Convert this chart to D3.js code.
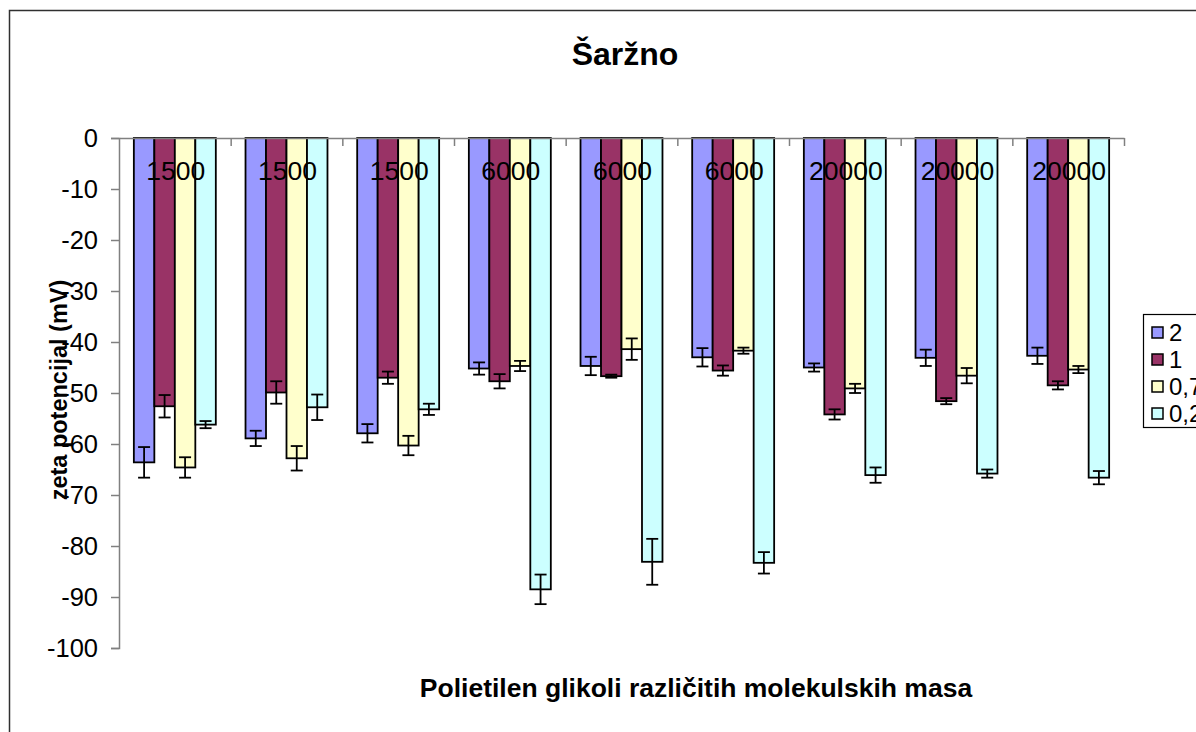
<!DOCTYPE html>
<html>
<head>
<meta charset="utf-8">
<script src="https://cdn.jsdelivr.net/npm/d3@7"></script>
<style>
  body { margin: 0; background: #fff; overflow: hidden; }
  text { font-family: "Liberation Sans", Arial, sans-serif; fill: #000; }
</style>
</head>
<body>
<div id="chart"></div>
<script>
// Chart data
var categories = ["1500", "1500", "1500", "6000", "6000", "6000", "20000", "20000", "20000"];
var seriesNames = ["2", "1", "0,75", "0,25"];
var seriesColors = ["#9999FF", "#993366", "#FFFFCC", "#CCFFFF"];

var values2 = [-63.6, -58.9, -57.9, -45.2, -44.7, -43.0, -45.0, -43.1, -42.7];
var values1 = [-52.6, -49.9, -47.0, -47.7, -46.7, -45.6, -54.2, -51.6, -48.5];
var values075 = [-64.6, -62.8, -60.3, -44.7, -41.4, -41.7, -49.1, -46.6, -45.4];
var values025 = [-56.2, -52.8, -53.2, -88.5, -83.1, -83.3, -66.1, -65.8, -66.6];

var errors2 = [3.0, 1.5, 1.8, 1.2, 1.8, 1.8, 0.8, 1.6, 1.6];
var errors1 = [2.2, 2.2, 1.2, 1.4, 0.3, 1.0, 1.0, 0.6, 0.8];
var errors075 = [2.0, 2.4, 1.9, 1.0, 2.1, 0.6, 0.9, 1.5, 0.7];
var errors025 = [0.7, 2.5, 1.1, 2.9, 4.5, 2.1, 1.5, 0.8, 1.3];

var yTicks = [0, -10, -20, -30, -40, -50, -60, -70, -80, -90, -100];

var allValues = [values2, values1, values075, values025];
var allErrors = [errors2, errors1, errors075, errors025];

// Define SVG area dimensions
var svgWidth = 1196;
var svgHeight = 732;

var plot = { left: 119, right: 1124, top: 138, bottom: 648 };

var svg = d3.select("#chart")
  .append("svg")
  .attr("width", svgWidth)
  .attr("height", svgHeight);

// Outer chart frame (runs off the right and bottom edges like the original)
svg.append("rect")
  .attr("x", 9.5)
  .attr("y", 10.5)
  .attr("width", 1300)
  .attr("height", 900)
  .attr("fill", "none")
  .attr("stroke", "#303030")
  .attr("stroke-width", 1.5);

// Build flat table of bars
var rows = [];
categories.forEach(function(c, i) {
  seriesNames.forEach(function(s, j) {
    rows.push({ cat: i, series: j, value: allValues[j][i], err: allErrors[j][i] });
  });
});

// Scales
var x0 = d3.scaleBand()
  .domain(d3.range(categories.length))
  .range([plot.left, plot.right]);

var gap = x0.bandwidth() * 0.133;
var x1 = d3.scaleBand()
  .domain(d3.range(seriesNames.length))
  .range([gap, x0.bandwidth() - gap]);

var y = d3.scaleLinear()
  .domain([-100, 0])
  .range([plot.bottom, plot.top]);

// Bars
svg.append("g").selectAll("rect")
  .data(rows)
  .enter()
  .append("rect")
  .attr("x", d => x0(d.cat) + x1(d.series))
  .attr("y", y(0))
  .attr("width", x1.bandwidth())
  .attr("height", d => y(d.value) - y(0))
  .attr("fill", d => seriesColors[d.series])
  .attr("stroke", "#000")
  .attr("stroke-width", 1.8);

// Error bars
var errGroup = svg.append("g")
  .attr("stroke", "#000")
  .attr("stroke-width", 1.8);

rows.forEach(function(d) {
  var cx = x0(d.cat) + x1(d.series) + x1.bandwidth() / 2;
  var yTop = y(d.value + d.err);
  var yBot = y(d.value - d.err);
  errGroup.append("line").attr("x1", cx).attr("x2", cx).attr("y1", yTop).attr("y2", yBot);
  errGroup.append("line").attr("x1", cx - 6).attr("x2", cx + 6).attr("y1", yTop).attr("y2", yTop);
  errGroup.append("line").attr("x1", cx - 6).attr("x2", cx + 6).attr("y1", yBot).attr("y2", yBot);
});

// Category labels drawn inside the bars near the top
svg.append("g").selectAll("text")
  .data(categories)
  .enter()
  .append("text")
  .attr("x", (d, i) => x0(i) + x0.bandwidth() / 2 + 1)
  .attr("y", 180)
  .attr("text-anchor", "middle")
  .attr("font-size", "26.5px")
  .text(d => d);

// Y axis
var leftAxis = d3.axisLeft(y)
  .tickValues(yTicks)
  .tickFormat(d => String(d))
  .tickSize(8)
  .tickSizeOuter(8)
  .tickPadding(13);

var yAxisG = svg.append("g")
  .attr("transform", `translate(${plot.left}, 0)`)
  .call(leftAxis);
yAxisG.selectAll("path, line").attr("stroke", "#808080").attr("stroke-width", 1.5);
yAxisG.selectAll("text")
  .attr("font-size", "25.5px")
  .attr("font-family", "Liberation Sans, Arial, sans-serif");

// X axis (category boundary ticks only) along value 0
var xEdges = d3.scaleLinear()
  .domain([0, categories.length])
  .range([plot.left, plot.right]);

var bottomAxis = d3.axisBottom(xEdges)
  .tickValues(d3.range(1, categories.length + 1))
  .tickFormat("")
  .tickSize(8)
  .tickSizeOuter(0);

var xAxisG = svg.append("g")
  .attr("transform", `translate(0, ${y(0)})`)
  .call(bottomAxis);
xAxisG.selectAll("path, line").attr("stroke", "#808080").attr("stroke-width", 1.5);

// Title
svg.append("text")
  .attr("x", 625)
  .attr("y", 65)
  .attr("text-anchor", "middle")
  .attr("font-size", "32px")
  .attr("font-weight", "bold")
  .text("Šaržno");

// Axis labels
svg.append("text")
  .attr("transform", "translate(67, 390) rotate(-90)")
  .attr("text-anchor", "middle")
  .attr("font-size", "23.5px")
  .attr("font-weight", "bold")
  .text("zeta potencijal (mV)");

svg.append("text")
  .attr("x", 696)
  .attr("y", 697)
  .attr("text-anchor", "middle")
  .attr("font-size", "26.5px")
  .attr("font-weight", "bold")
  .text("Polietilen glikoli različitih molekulskih masa");

// Legend
var legend = svg.append("g").attr("transform", "translate(1143, 314)");
legend.append("rect")
  .attr("x", 0.5)
  .attr("y", 0.5)
  .attr("width", 120)
  .attr("height", 113)
  .attr("fill", "#fff")
  .attr("stroke", "#000")
  .attr("stroke-width", 1.2);

var legendItems = legend.selectAll(".item")
  .data(seriesNames)
  .enter()
  .append("g")
  .attr("transform", (d, i) => `translate(0, ${18 + i * 27})`);

legendItems.append("rect")
  .attr("x", 9)
  .attr("y", -5)
  .attr("width", 11)
  .attr("height", 11)
  .attr("fill", (d, i) => seriesColors[i])
  .attr("stroke", "#000")
  .attr("stroke-width", 1.5);

legendItems.append("text")
  .attr("x", 26)
  .attr("y", 9)
  .attr("font-size", "24px")
  .text(d => d);
</script>
</body>
</html>
